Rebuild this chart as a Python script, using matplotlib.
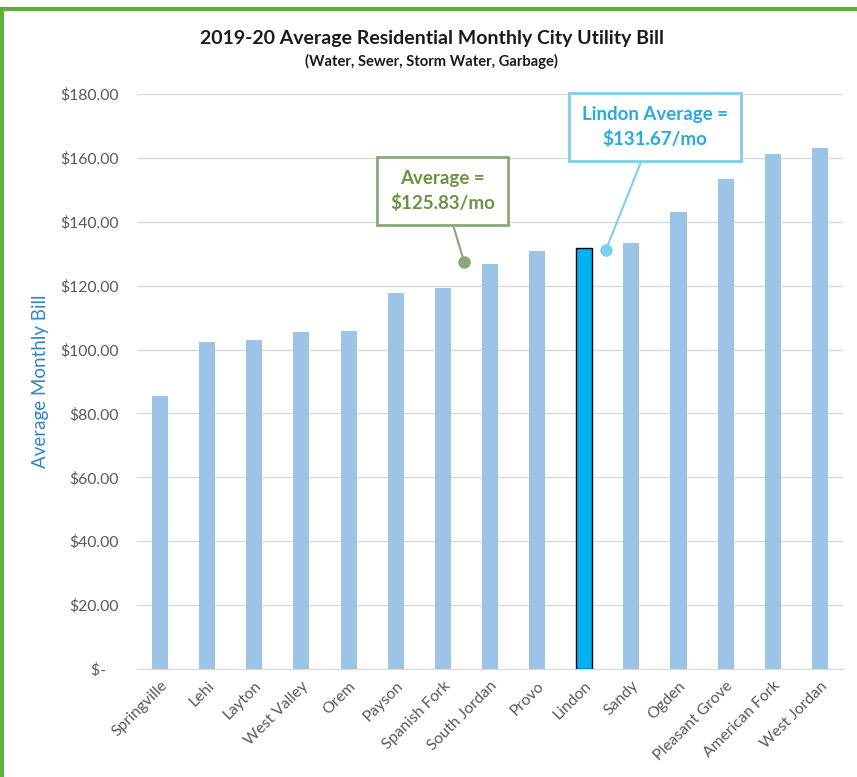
import matplotlib
matplotlib.use("Agg")
import matplotlib.pyplot as plt
from matplotlib.lines import Line2D

plt.rcParams['font.family'] = ['Lato', 'DejaVu Sans']

cities = ["Springville", "Lehi", "Layton", "West Valley", "Orem", "Payson",
          "Spanish Fork", "South Jordan", "Provo", "Lindon", "Sandy", "Ogden",
          "Pleasant Grove", "American Fork", "West Jordan"]
bills = [85.6, 102.3, 103.0, 105.5, 105.9, 117.8, 119.3, 126.9, 130.7,
         131.67, 133.4, 143.1, 153.5, 161.3, 163.2]
yticks = [0, 20, 40, 60, 80, 100, 120, 140, 160, 180]
ytick_labels = ["$-   ", "$20.00", "$40.00", "$60.00", "$80.00", "$100.00",
                "$120.00", "$140.00", "$160.00", "$180.00"]
highlight = "Lindon"
avg_text = "Average =\n$125.83/mo"
lindon_text = "Lindon Average =\n$131.67/mo"

fig = plt.figure(figsize=(8.57, 7.77), dpi=100)
ax = fig.add_axes([0.1593, 0.139, 0.8249, 0.740])

x = list(range(len(cities)))
colors = ["#00B0F0" if c == highlight else "#9DC3E6" for c in cities]
edges = ["#000000" if c == highlight else "none" for c in cities]
lws = [1.0 if c == highlight else 0 for c in cities]
ax.bar(x, bills, width=0.34, color=colors, edgecolor=edges, linewidth=lws, zorder=3)

ax.set_xlim(-0.5, len(cities) - 0.5)
ax.set_ylim(0, 180)
ax.set_yticks(yticks)
ax.set_yticklabels(ytick_labels)
ax.set_xticks(x)
ax.set_xticklabels(cities, rotation=45, ha='right', rotation_mode='anchor')
ax.tick_params(axis='both', length=0, labelsize=11.3, labelcolor="#595959")
ax.tick_params(axis='y', pad=13)
ax.tick_params(axis='x', pad=7)
ax.grid(axis='y', color="#D9D9D9", linewidth=1, zorder=0)
for s in ['top', 'right', 'left']:
    ax.spines[s].set_visible(False)
ax.spines['bottom'].set_color("#D9D9D9")
ax.set_ylabel("Average Monthly Bill", color="#2E86C1", fontsize=13.5, labelpad=8)

fig.text(0.504, 0.951, "2019-20 Average Residential Monthly City Utility Bill",
         ha='center', va='center', fontsize=14, fontweight='bold', color="#1a1a1a")
fig.text(0.504, 0.921, "(Water, Sewer, Storm Water, Garbage)",
         ha='center', va='center', fontsize=10.6, fontweight='bold', color="#1a1a1a")

hi = cities.index(highlight)
# Average annotation
ax.annotate(avg_text, xy=(hi - 2.55, 127.5), xytext=(hi - 3.0, 149.7),
            ha='center', va='center', fontsize=13.5, fontweight='bold', color="#6B9342",
            linespacing=1.45,
            bbox=dict(boxstyle='square,pad=0.7', fc='white', ec="#8AA876", lw=2),
            arrowprops=dict(arrowstyle='-', color="#8AA876", lw=1.5, shrinkA=0, shrinkB=0),
            zorder=5)
ax.plot([hi - 2.55], [127.5], 'o', color="#8AA876", ms=8, zorder=5)
# Lindon annotation
ax.annotate(lindon_text, xy=(hi + 0.46, 131.25), xytext=(hi + 1.5, 169.7),
            ha='center', va='center', fontsize=13.5, fontweight='bold', color="#29ABE2",
            linespacing=1.45,
            bbox=dict(boxstyle='square,pad=0.7', fc='white', ec="#7FCFEA", lw=2),
            arrowprops=dict(arrowstyle='-', color="#7FCFEA", lw=1.5, shrinkA=0, shrinkB=0),
            zorder=5)
ax.plot([hi + 0.46], [131.25], 'o', color="#7FCFEA", ms=8, zorder=5)

# green frame (left and top)
W, H = 857, 777
fig.add_artist(Line2D([2 / W, 2 / W], [0, 1 - 9 / H], color="#5FAF3F", lw=3, transform=fig.transFigure))
fig.add_artist(Line2D([0, 1], [1 - 9 / H, 1 - 9 / H], color="#5FAF3F", lw=3, transform=fig.transFigure))

fig.savefig("out.png", dpi=100)
